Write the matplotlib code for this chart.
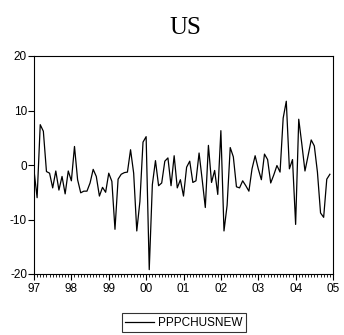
import numpy as np
import matplotlib
matplotlib.use("Agg")
from matplotlib import pyplot as plt
from matplotlib.ticker import MultipleLocator

# monthly values, Jan 1997 .. Dec 2004
y1997 = [-1.0, -6.0, 7.4, 6.2, -1.2, -1.5, -4.2, -1.1, -4.6, -2.1, -5.3, -1.1]
y1998 = [-2.9, 3.4, -2.7, -5.1, -4.8, -4.8, -3.3, -0.8, -2.1, -5.7, -4.1, -5.0]
y1999 = [-1.5, -3.0, -11.8, -2.6, -1.7, -1.4, -1.3, 2.8, -1.5, -12.1, -6.7, 4.2]
y2000 = [5.2, -19.2, -3.6, 0.8, -3.8, -3.3, 0.7, 1.3, -3.8, 1.7, -4.2, -2.7]
y2001 = [-5.7, -0.4, 0.7, -3.2, -2.9, 2.2, -2.7, -7.8, 3.6, -3.2, -1.0, -5.4]
y2002 = [6.3, -12.1, -7.4, 3.2, 1.5, -4.0, -4.2, -2.9, -3.8, -4.8, -0.7, 1.7]
y2003 = [-0.7, -2.7, 2.0, 1.0, -3.3, -1.8, -0.1, -1.3, 8.6, 11.7, -0.7, 1.0]
y2004 = [-10.9, 8.4, 3.8, -1.1, 1.7, 4.6, 3.5, -1.3, -8.8, -9.6, -2.6, -1.7]

values = np.array(y1997 + y1998 + y1999 + y2000 + y2001 + y2002 + y2003 + y2004)
dates = 1997 + np.arange(len(values)) / 12.0

years = list(range(1997, 2006))
year_labels = ["97", "98", "99", "00", "01", "02", "03", "04", "05"]

plt.rcParams['font.family'] = ['Liberation Sans', 'DejaVu Sans']
plt.rcParams['axes.unicode_minus'] = False

fig = plt.figure(figsize=(3.44, 3.35), dpi=100)
ax = fig.add_axes([34 / 344, 1 - 274 / 335, 299 / 344, 218 / 335])

ax.plot(dates, values, color='black', linewidth=0.9, label='PPPCHUSNEW')

ax.set_xlim(1997, 2005)
ax.set_ylim(-20, 20)
ax.set_yticks([-20, -10, 0, 10, 20])
ax.set_xticks(years)
ax.set_xticklabels(year_labels)
ax.xaxis.set_minor_locator(MultipleLocator(1 / 12))
ax.tick_params(axis='y', which='major', labelsize=8.5, length=4, width=0.8,
               direction='out', pad=1)
ax.tick_params(axis='x', which='major', labelsize=8.5, length=4, width=0.8,
               direction='out', pad=2.5)
ax.tick_params(axis='x', which='minor', length=2.5, width=0.6, direction='out')
ax.tick_params(top=False, right=False)
for s in ax.spines.values():
    s.set_linewidth(0.8)

fig.text(0.54, 0.915, "US", fontsize=18, ha='center', va='center',
         family=['Liberation Serif', 'DejaVu Serif'])

leg = fig.legend(loc='center', bbox_to_anchor=(0.535, 0.036), fontsize=8.5,
                 frameon=True, fancybox=False, handlelength=2.4,
                 borderpad=0.3, handletextpad=0.4)
leg.get_frame().set_edgecolor('black')
leg.get_frame().set_linewidth(0.8)

fig.savefig('out.png', dpi=100)
